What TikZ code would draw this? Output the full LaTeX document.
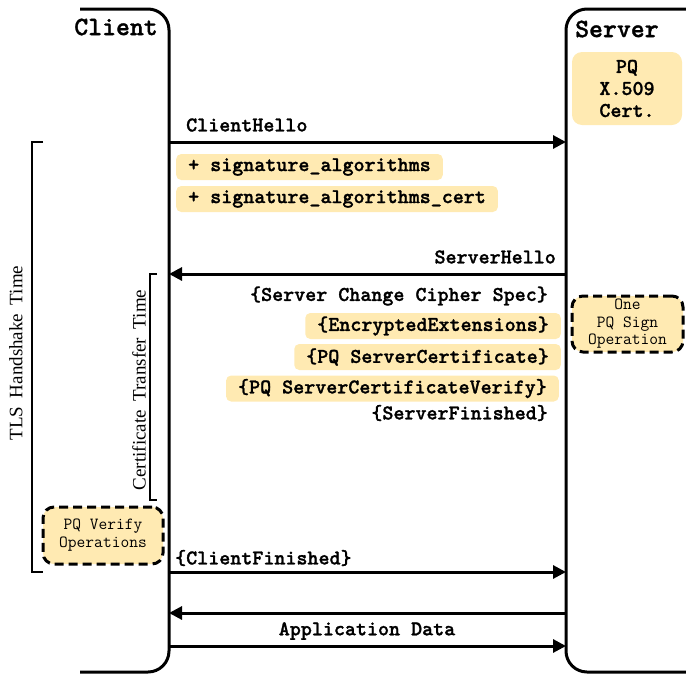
\documentclass[tikz,border=0pt]{standalone}
\usepackage{fontspec}
\setmainfont{Liberation Serif}
\newfontfamily\msgfont{lmmonolt10-bold}[Extension=.otf, FakeBold=1.2]
\usetikzlibrary{arrows.meta}
\definecolor{pqyellow}{HTML}{FFEAB2}
\newcommand{\widesp}{\spaceskip=0.45em plus 0pt minus 0pt\relax}
\tikzset{
  lane/.style={line width=3pt, rounded corners=21pt},
  msg/.style={line width=3pt, -{Triangle[length=13pt,width=13pt]}},
  brack/.style={line width=2pt},
  title/.style={font=\msgfont\fontsize{26.5}{30}\selectfont, inner sep=0pt},
  lbl/.style={font=\msgfont\fontsize{21}{22}\selectfont, inner sep=0pt},
  ybox/.style={lbl, fill=pqyellow, rounded corners=5pt, inner xsep=12pt, minimum height=26pt},
  opbox/.style={fill=pqyellow, draw=black, line width=3pt, dash pattern=on 9pt off 5pt, rounded corners=11pt, align=center, inner sep=0pt},
  timelbl/.style={font=\rmfamily\fontsize{19}{22}\selectfont, rotate=90, inner sep=0pt},
}
\begin{document}
\begin{tikzpicture}[x=1pt,y=-1pt]
\useasboundingbox (0,0) rectangle (686,681);
% lanes
\draw[lane] (80,9) -- (169,9) -- (169,672) -- (80,672);
\draw[lane] (690,9) -- (566,9) -- (566,672) -- (690,672);
\node[title, anchor=east] (client) at (158,27) {Client};
\node[title, anchor=west] (server) at (575,29) {Server};
% PQ cert
\node[lbl, fill=pqyellow, rounded corners=10pt, minimum width=110pt, minimum height=73pt, align=center] (cert) at (627,88.5) {PQ\\X.509\\Cert.};
% lane anchor coordinates
\coordinate (c1) at (169,142); \coordinate (s1) at (566,142);
\coordinate (c2) at (169,274); \coordinate (s2) at (566,274);
\coordinate (c3) at (169,572); \coordinate (s3) at (566,572);
\coordinate (c4) at (169,613); \coordinate (s4) at (566,613);
\coordinate (c5) at (169,646); \coordinate (s5) at (566,646);
% ClientHello
\draw[msg] (c1) -- (s1);
\node[lbl, anchor=west] (ch) at (186,125) {ClientHello};
\node[ybox, anchor=west] (sa1) at (176,167) {+ signature\_algorithms};
\node[ybox, anchor=west] (sa2) at (176,199) {+ signature\_algorithms\_cert};
% ServerHello
\draw[msg] (s2) -- (c2);
\node[lbl, anchor=east] (sh) at (556,257) {ServerHello};
\node[lbl, anchor=east] (ccs) at (548,296) {\{Server Change Cipher Spec\}};
\node[ybox, anchor=east] (ee) at (561,326) {\{EncryptedExtensions\}};
\node[ybox, anchor=east] (sc) at (561,357) {\{PQ ServerCertificate\}};
\node[ybox, anchor=east] (scv) at (559,388.5) {\{PQ ServerCertificateVerify\}};
\node[lbl, anchor=east] (sf) at (548,413) {\{ServerFinished\}};
% operations
\node[opbox, minimum width=111pt, minimum height=56pt, font=\ttfamily\fontsize{17}{17.5}\selectfont] (sign) at (627.5,324) {One\\PQ Sign\\Operation};
\node[opbox, minimum width=120pt, minimum height=57pt, font=\ttfamily\fontsize{17}{18}\selectfont] (verify) at (103,535.5) {PQ Verify\\Operations};
% ClientFinished and application data
\draw[msg] (c3) -- (s3);
\node[lbl, anchor=west] (cf) at (175,558) {\{ClientFinished\}};
\draw[msg] (s4) -- (c4);
\draw[msg] (c5) -- (s5);
\node[lbl] (ad) at (367,631) {Application Data};
% brackets
\coordinate (t1) at (43,142); \coordinate (t2) at (43,572);
\draw[brack] (t1) -- (32,142) -- (32,572) -- (t2);
\node[timelbl] (tls) at (16,353) {\widesp TLS Handshake Time};
\coordinate (b1) at (157,274); \coordinate (b2) at (157,500);
\draw[brack] (b1) -- (150,274) -- (150,500) -- (b2);
\node[timelbl] (ctt) at (139,390) {\widesp Certificate Transfer Time};
\end{tikzpicture}
\end{document}
